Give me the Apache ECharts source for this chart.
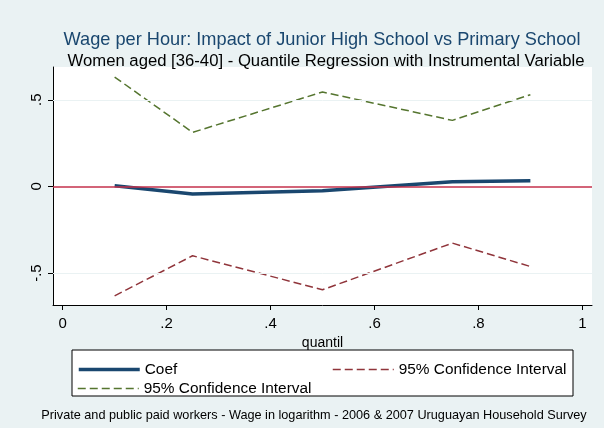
<!DOCTYPE html>
<html>
<head>
<meta charset="utf-8">
<script src="https://cdn.jsdelivr.net/npm/echarts@6/dist/echarts.min.js"></script>
<style>
  html, body { margin: 0; padding: 0; background: #EAF2F3; }
  #chart { width: 604px; height: 428px; }
</style>
</head>
<body>
<div id="chart"></div>
<script>
// Quantiles at which the IV quantile regression was estimated
const quantiles = [0.1, 0.25, 0.5, 0.75, 0.9];
// Point estimates and 95% confidence bounds
const coef    = [0.004, -0.044, -0.025, 0.027, 0.033];
const ciLower = [-0.631, -0.400, -0.596, -0.327, -0.462];
const ciUpper = [0.631, 0.312, 0.545, 0.381, 0.529];

// Axis ticks and their labels
const xTicks = [0, 0.2, 0.4, 0.6, 0.8, 1];
const xTickLabels = ['0', '.2', '.4', '.6', '.8', '1'];
const yTicks = [-0.5, 0, 0.5];
const yTickLabels = ['-.5', '0', '.5'];

const titleText = 'Wage per Hour: Impact of Junior High School vs Primary School';
const subtitleText = 'Women aged [36-40] - Quantile Regression with Instrumental Variable';
const noteText = 'Private and public paid workers - Wage in logarithm - 2006 & 2007 Uruguayan Household Survey';
const xName = 'quantil';
const ciLabel = '95% Confidence Interval';

const FONT = '"Liberation Sans", Arial, Helvetica, sans-serif';
const pairs = (ys) => quantiles.map((q, i) => [q, ys[i]]);
const labelFor = (ticks, labels) => (v) => {
  const i = ticks.findIndex(t => Math.abs(t - v) < 1e-9);
  return i >= 0 ? labels[i] : '';
};

const legendText = { fontFamily: FONT, fontSize: 15.4, color: '#000' };
// hide the marker dot, keep only the line sample
const noDot = { opacity: 0 };
const legendBase = { itemWidth: 61, itemHeight: 14, padding: 0, z: 5, itemStyle: noDot, textStyle: legendText };

const chart = echarts.init(document.getElementById('chart'), null, { renderer: 'canvas' });

chart.setOption({
  backgroundColor: '#EAF2F3',
  animation: false,
  title: [
    { text: titleText, left: 317, top: 26, textAlign: 'center',
      textStyle: { fontFamily: FONT, fontSize: 18.2, fontWeight: 'normal', color: '#1A476F' } },
    { text: subtitleText, left: 321, top: 48, textAlign: 'center',
      textStyle: { fontFamily: FONT, fontSize: 16.7, fontWeight: 'normal', color: '#000' } },
    { text: noteText, left: 309, top: 404, textAlign: 'center',
      textStyle: { fontFamily: FONT, fontSize: 12.7, fontWeight: 'normal', color: '#000' } }
  ],
  grid: {
    left: 53, right: 12, top: 67, bottom: 123,
    show: true, backgroundColor: '#FFFFFF', borderWidth: 0
  },
  graphic: [
    { type: 'rect', z: 0, shape: { x: 72, y: 350, width: 501, height: 46 },
      style: { fill: '#FFFFFF', stroke: '#000000', lineWidth: 1 } }
  ],
  legend: [
    Object.assign({}, legendBase, { data: ['coef'], left: 77, top: 362,
      lineStyle: { width: 3.5 }, formatter: () => 'Coef' }),
    Object.assign({}, legendBase, { data: ['ciLower'], left: 332, top: 362,
      lineStyle: { width: 1.5 }, formatter: () => ciLabel }),
    Object.assign({}, legendBase, { data: ['ciUpper'], left: 77, top: 381,
      lineStyle: { width: 1.5 }, formatter: () => ciLabel })
  ],
  xAxis: {
    type: 'value', min: -0.0186, max: 1.0186,
    name: xName, nameLocation: 'middle', nameGap: 28,
    nameTextStyle: { fontFamily: FONT, fontSize: 14, color: '#000' },
    axisLine: { show: true, onZero: false, lineStyle: { color: '#000', width: 1 } },
    axisTick: { show: true, length: 5, customValues: xTicks, lineStyle: { color: '#000' } },
    axisLabel: { customValues: xTicks, formatter: labelFor(xTicks, xTickLabels), margin: 11,
      fontFamily: FONT, fontSize: 15, color: '#000' },
    splitLine: { show: false }
  },
  yAxis: {
    type: 'value', min: -0.684, max: 0.689,
    axisLine: { show: true, onZero: false, lineStyle: { color: '#000', width: 1 } },
    axisTick: { show: true, length: 5, customValues: yTicks, lineStyle: { color: '#000' } },
    axisLabel: { customValues: yTicks, formatter: labelFor(yTicks, yTickLabels), rotate: 90, margin: 9,
      fontFamily: FONT, fontSize: 15, color: '#000' },
    splitLine: { show: false }
  },
  series: [
    {
      // gridlines and the zero reference line
      name: 'ref', type: 'line', data: [], z: 1, silent: true,
      markLine: {
        symbol: 'none', silent: true, label: { show: false }, animation: false,
        data: [
          { yAxis: -0.5, lineStyle: { color: '#EAF2F3', width: 1, type: 'solid' } },
          { yAxis: 0.5, lineStyle: { color: '#EAF2F3', width: 1, type: 'solid' } },
          { yAxis: 0, lineStyle: { color: '#C4314B', width: 1.5, type: 'solid' } }
        ]
      }
    },
    {
      name: 'coef', type: 'line', data: pairs(coef), z: 4,
      symbol: 'none', color: '#1A476F',
      lineStyle: { color: '#1A476F', width: 3.5 }
    },
    {
      name: 'ciLower', type: 'line', data: pairs(ciLower), z: 3,
      symbol: 'none', color: '#90353B',
      lineStyle: { color: '#90353B', width: 1.5, type: [8, 4] }
    },
    {
      name: 'ciUpper', type: 'line', data: pairs(ciUpper), z: 3,
      symbol: 'none', color: '#55752F',
      lineStyle: { color: '#55752F', width: 1.5, type: [8, 4] }
    }
  ]
});
</script>
</body>
</html>
